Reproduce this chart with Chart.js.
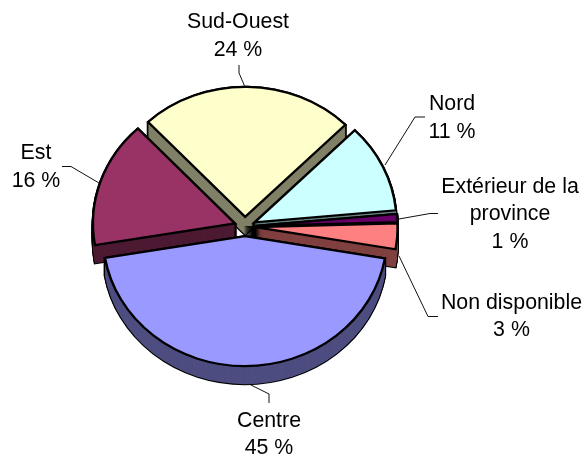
<!DOCTYPE html>
<html>
<head>
<meta charset="utf-8">
<style>html,body{margin:0;padding:0;background:#fff}canvas{display:block}</style>
<script src="https://cdn.jsdelivr.net/npm/chart.js@4"></script>
</head>
<body>
<canvas id="c" width="584" height="458"></canvas>
<script>
const categories = ['Centre', 'Est', 'Sud-Ouest', 'Nord', 'Extérieur de la\nprovince', 'Non disponible'];
const shares = [44.6, 15.7, 24.45, 11.05, 1, 3.2];
const topColors = ['#9999FF', '#993366', '#FFFFCC', '#CCFFFF', '#660066', '#FF8080'];
const wallColors = ['#4D4D80', '#4D1A33', '#808066', '#668080', '#330033', '#804040'];

const RADIUS = 142, TILT = 0.915, DEPTH = 18, EXPLODE = 10.6;
const FONT = '21.33px "Liberation Sans", Arial, sans-serif';
const LINE_H = 27.6;
const labelSpots = [
  {x: 269, y: 426.5}, {x: 36, y: 159}, {x: 238, y: 28}, {x: 452, y: 110}, {x: 510, y: 192.5}, {x: 511.5, y: 308.5}
];
const leaders = [
  [[249, 384], [269, 394], [269, 403]],
  [[99, 183], [71, 166.5], [62, 166.5]],
  [[245, 87], [239, 73], [239, 65]],
  [[385, 165], [415, 117], [425, 117]],
  [[399, 219], [430, 213.5], [438, 213.5]],
  [[399, 256], [428, 316.5], [438, 316.5]]
];

const pie3d = {
  id: 'pie3d',
  beforeDatasetDraw(chart, args) {
    const ctx = chart.ctx;
    const all = chart.getDatasetMeta(args.index).data;
    const arcs = all.slice();
    const mid = a => (a.startAngle + a.endAngle) / 2;
    arcs.sort((p, q) => Math.sin(mid(p)) - Math.sin(mid(q)));
    const place = (arc, dy) => {
      const m = mid(arc);
      ctx.translate(0, arc.y + dy);
      ctx.scale(1, TILT);
      ctx.translate(0, -arc.y);
      ctx.translate(Math.cos(m) * EXPLODE, Math.sin(m) * EXPLODE);
    };
    arcs.forEach(arc => {
      const i = all.indexOf(arc);
      const orig = arc.options;
      arc.options = Object.assign({}, orig, {backgroundColor: '#000', borderColor: '#000'});
      for (let d = DEPTH; d >= 0; d--) { ctx.save(); place(arc, d); arc.draw(ctx); ctx.restore(); }
      arc.options = Object.assign({}, orig, {backgroundColor: wallColors[i], borderWidth: 0});
      for (let d = DEPTH; d >= 0; d--) { ctx.save(); place(arc, d); arc.draw(ctx); ctx.restore(); }
      arc.options = orig;
      ctx.save(); place(arc, 0); arc.draw(ctx); ctx.restore();
    });
    return false;
  },
  afterDraw(chart) {
    const ctx = chart.ctx;
    ctx.save();
    ctx.strokeStyle = '#111';
    ctx.lineWidth = 1;
    leaders.forEach(pts => {
      ctx.beginPath();
      pts.forEach((p, i) => i ? ctx.lineTo(p[0], p[1]) : ctx.moveTo(p[0], p[1]));
      ctx.stroke();
    });
    ctx.fillStyle = '#000';
    ctx.font = FONT;
    ctx.textAlign = 'center';
    ctx.textBaseline = 'alphabetic';
    categories.forEach((name, i) => {
      const lines = name.split('\n').concat(Math.round(shares[i]) + ' %');
      lines.forEach((t, j) => ctx.fillText(t, labelSpots[i].x, labelSpots[i].y + j * LINE_H));
    });
    ctx.restore();
  }
};

new Chart(document.getElementById('c'), {
  type: 'pie',
  data: {
    labels: categories,
    datasets: [{
      data: shares,
      backgroundColor: topColors,
      borderColor: '#000',
      borderWidth: 2.4,
      borderJoinStyle: 'miter',
      radius: RADIUS
    }]
  },
  options: {
    responsive: false,
    animation: false,
    rotation: 99.8,
    layout: {padding: {left: 0, top: 0, right: 94, bottom: 5}},
    plugins: {legend: {display: false}, tooltip: {enabled: false}, title: {display: false}}
  },
  plugins: [pie3d]
});
</script>
</body>
</html>
